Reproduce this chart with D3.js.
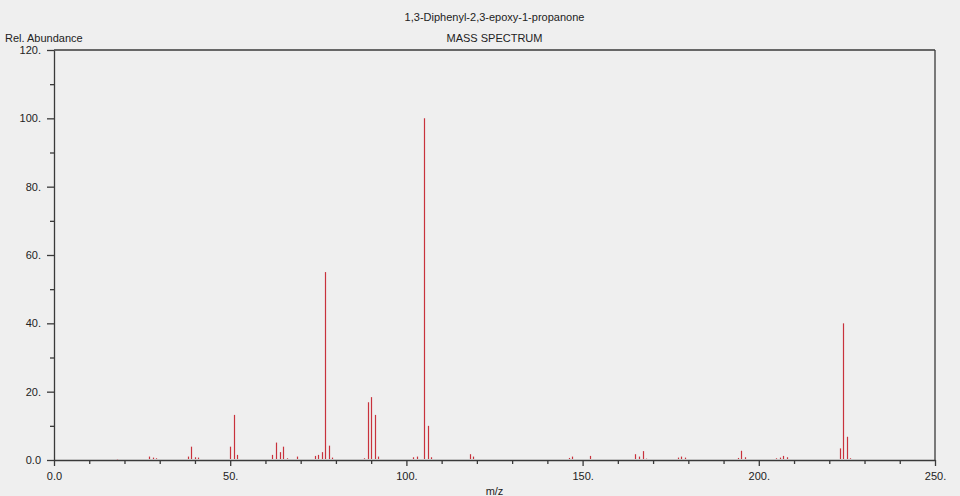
<!DOCTYPE html>
<html>
<head>
<meta charset="utf-8">
<script src="https://cdnjs.cloudflare.com/ajax/libs/d3/7.8.5/d3.min.js"></script>
<style>
  body { margin: 0; background: #efefef; }
  svg { display: block; font-family: "Liberation Sans", Arial, sans-serif; }
  text { fill: #222; }
</style>
</head>
<body>
<div class="chart"></div>
<script>
// chart text
var title = "1,3-Diphenyl-2,3-epoxy-1-propanone";
var subtitle = "MASS SPECTRUM";
var yTitle = "Rel. Abundance";
var xTitle = "m/z";

// axis ticks
var xMajorTicks = [0, 50, 100, 150, 200, 250];
var xMinorTicks = [10, 20, 30, 40, 60, 70, 80, 90, 110, 120, 130, 140, 160, 170, 180, 190, 210, 220, 230, 240];
var xTickLabels = ["0.0", "50.", "100.", "150.", "200.", "250."];
var yMajorTicks = [0, 20, 40, 60, 80, 100, 120];
var yMinorTicks = [10, 30, 50, 70, 90, 110];
var yTickLabels = ["0.0", "20.", "40.", "60.", "80.", "100.", "120."];

// spectrum peaks
var mz = [18, 27, 28, 29, 38, 39, 40, 41, 50, 51, 52, 53,
  61, 62, 63, 64, 65, 66, 69, 74, 75, 76, 77, 78, 79,
  82, 86, 87, 88, 89, 90, 91, 92, 98, 102, 103, 104, 105, 106, 107,
  115, 118, 119, 131, 146, 147, 152, 165, 166, 167, 168,
  177, 178, 179, 194, 195, 196, 205, 206, 207, 208,
  223, 224, 225, 226];
var abundance = [0.2, 1.0, 0.7, 0.5, 1.0, 3.9, 0.8, 0.7, 3.9, 13.2, 1.5, 0.3,
  0.3, 1.5, 5.1, 2.3, 3.9, 0.5, 1.0, 1.2, 1.5, 2.3, 55.0, 4.2, 0.7,
  0.3, 0.3, 0.3, 0.5, 16.9, 18.4, 13.2, 1.0, 0.3, 0.8, 1.0, 0.3, 100.0, 10.0, 0.8,
  0.3, 1.7, 1.0, 0.3, 0.6, 1.0, 1.2, 1.7, 1.0, 2.6, 0.4,
  0.7, 1.0, 0.7, 0.6, 2.7, 0.8, 0.5, 0.7, 1.2, 0.8,
  3.4, 40.0, 6.8, 0.5];

var svgWidth = 960;
var svgHeight = 496;
var margin = { top: 50, right: 25, bottom: 36, left: 54 };
var width = svgWidth - margin.left - margin.right;
var height = svgHeight - margin.top - margin.bottom;

var svg = d3.select(".chart")
  .append("svg")
  .attr("width", svgWidth)
  .attr("height", svgHeight);

var chartGroup = svg.append("g")
  .attr("transform", `translate(${margin.left}, ${margin.top})`);

// scales
var xScale = d3.scaleLinear().domain([0, 250]).range([0, width]);
var yScale = d3.scaleLinear().domain([0, 120]).range([height, 0]);

var axisColor = "#3a3a3a";

// minor ticks
chartGroup.append("g")
  .attr("transform", `translate(0, ${height})`)
  .call(d3.axisBottom(xScale).tickValues(xMinorTicks).tickSize(4).tickFormat(""))
  .call(g => g.select(".domain").remove());
chartGroup.append("g")
  .call(d3.axisLeft(yScale).tickValues(yMinorTicks).tickSize(4).tickFormat(""))
  .call(g => g.select(".domain").remove());

// major ticks and labels
var xAxis = chartGroup.append("g")
  .attr("transform", `translate(0, ${height})`)
  .call(d3.axisBottom(xScale).tickValues(xMajorTicks).tickSize(6).tickPadding(6).tickSizeOuter(0)
    .tickFormat((d, i) => xTickLabels[i]));
var yAxis = chartGroup.append("g")
  .call(d3.axisLeft(yScale).tickValues(yMajorTicks).tickSize(7).tickPadding(6).tickSizeOuter(0)
    .tickFormat((d, i) => yTickLabels[i]));

chartGroup.selectAll(".tick line").attr("stroke", axisColor).attr("stroke-width", 1.3);
chartGroup.selectAll(".domain").attr("stroke", axisColor).attr("stroke-width", 1.3);
chartGroup.selectAll(".tick text")
  .attr("font-size", "11px")
  .attr("fill", "#222")
  .attr("font-family", "Liberation Sans, Arial, sans-serif");

// top and right frame lines
chartGroup.append("line")
  .attr("x1", 0).attr("x2", width)
  .attr("y1", yScale(120)).attr("y2", yScale(120))
  .attr("stroke", axisColor).attr("stroke-width", 1.3);
chartGroup.append("line")
  .attr("x1", width).attr("x2", width)
  .attr("y1", yScale(120)).attr("y2", yScale(0))
  .attr("stroke", axisColor).attr("stroke-width", 1.3);

// peaks
var peaks = mz.map((m, i) => ({ mz: m, abundance: abundance[i] }));
chartGroup.selectAll(".peak")
  .data(peaks)
  .enter()
  .append("line")
  .attr("class", "peak")
  .attr("x1", d => Math.round(xScale(d.mz)) + 0.5)
  .attr("x2", d => Math.round(xScale(d.mz)) + 0.5)
  .attr("y1", yScale(0) - 1)
  .attr("y2", d => yScale(d.abundance))
  .attr("stroke", "#c8323c")
  .attr("stroke-width", 1.2);

// titles
svg.append("text")
  .attr("x", margin.left + width / 2)
  .attr("y", 21)
  .attr("text-anchor", "middle")
  .attr("font-size", "11px")
  .text(title);
svg.append("text")
  .attr("x", margin.left + width / 2)
  .attr("y", 42)
  .attr("text-anchor", "middle")
  .attr("font-size", "11px")
  .text(subtitle);
svg.append("text")
  .attr("x", 5)
  .attr("y", 42)
  .attr("font-size", "11px")
  .text(yTitle);
svg.append("text")
  .attr("x", margin.left + width / 2)
  .attr("y", 495)
  .attr("text-anchor", "middle")
  .attr("font-size", "11px")
  .text(xTitle);
</script>
</body>
</html>
